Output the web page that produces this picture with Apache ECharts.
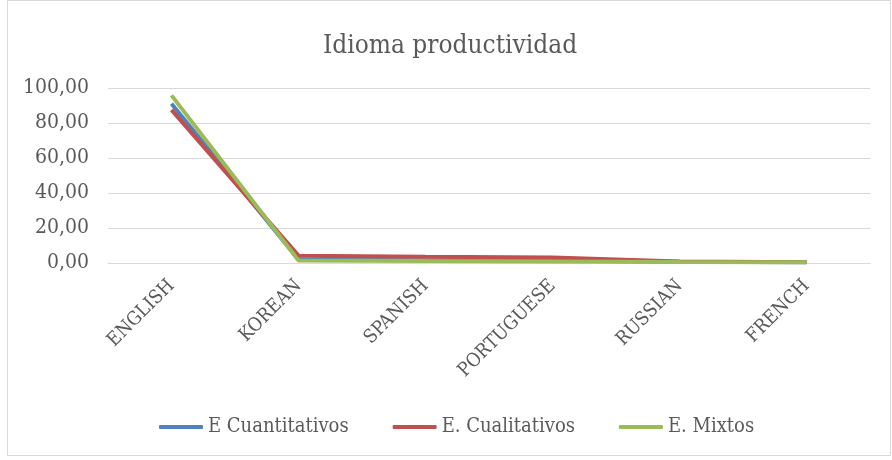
<!DOCTYPE html>
<html><head><meta charset="utf-8">
<script src="https://cdn.jsdelivr.net/npm/echarts@6/dist/echarts.min.js"></script>
<style>html,body{margin:0;padding:0;background:#fff}#c{width:892px;height:460px}</style>
</head><body><div id="c"></div>
<script>
const categories = ['ENGLISH','KOREAN','SPANISH','PORTUGUESE','RUSSIAN','FRENCH'];
const cuantitativos = [91.0, 2.0, 1.6, 1.5, 0.7, 0.5];
const cualitativos = [87.5, 4.2, 3.6, 3.2, 0.8, 0.5];
const mixtos = [95.8, 1.4, 1.1, 0.9, 0.6, 0.5];
const yTicks = [0, 20, 40, 60, 80, 100];
const FONT = '"DejaVu Serif Condensed", "DejaVu Serif", serif';
const chart = echarts.init(document.getElementById('c'));
const mk = (name, data, color) => ({
  name, type: 'line', data, symbol: 'none', smooth: false,
  lineStyle: { width: 4, color }, itemStyle: { color }
});
chart.setOption({
  animation: false,
  textStyle: { fontFamily: FONT },
  title: { text: 'Idioma productividad', left: 318, top: 28,
    textStyle: { fontFamily: FONT, fontSize: 26, fontWeight: 'normal', color: '#595959' } },
  graphic: [{ type: 'rect', shape: { x: 7.5, y: 0.5, width: 883, height: 455 },
    style: { fill: 'none', stroke: '#d9d9d9', lineWidth: 1 } }],
  grid: { left: 108, right: 22, top: 88, bottom: 197, containLabel: false },
  legend: { bottom: 18, left: 154, itemWidth: 44, itemHeight: 4, itemGap: 44,
    icon: 'roundRect',
    textStyle: { fontFamily: FONT, fontSize: 20, color: '#595959' },
    data: ['E Cuantitativos', 'E. Cualitativos', 'E. Mixtos'] },
  xAxis: { type: 'category', data: categories, boundaryGap: true,
    axisLine: { lineStyle: { color: '#d9d9d9' } }, axisTick: { show: false },
    axisLabel: { rotate: 45, fontFamily: FONT, fontSize: 19, color: '#595959', margin: 20 } },
  yAxis: { type: 'value', min: 0, max: 100, interval: 20,
    axisLine: { show: false }, axisTick: { show: false },
    splitLine: { lineStyle: { color: '#d9d9d9' } },
    axisLabel: { fontFamily: FONT, fontSize: 21, color: '#595959', margin: 19,
      formatter: v => yTicks.includes(v) ? v.toFixed(2).replace('.', ',') : '' } },
  series: [
    mk('E Cuantitativos', cuantitativos, '#4F81BD'),
    mk('E. Cualitativos', cualitativos, '#C0504D'),
    mk('E. Mixtos', mixtos, '#9BBB59')
  ]
});
</script></body></html>
